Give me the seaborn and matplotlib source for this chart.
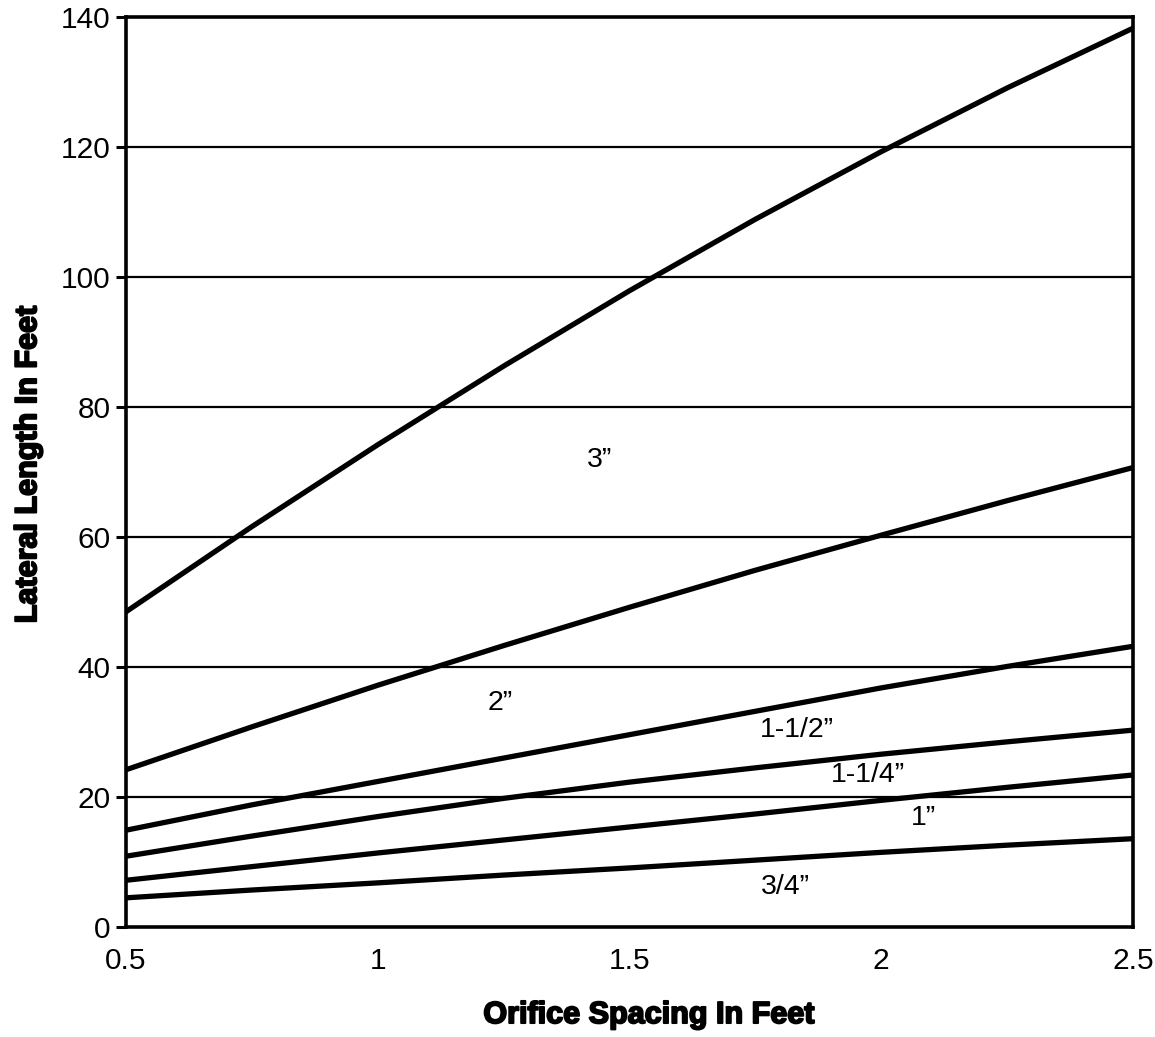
import matplotlib
matplotlib.use("Agg")
import matplotlib.pyplot as plt
import matplotlib.patheffects as pe
import seaborn as sns
import pandas as pd

spacing = [0.5, 0.75, 1.0, 1.25, 1.5, 1.75, 2.0, 2.25, 2.5]
len_3in = [48.5, 61.6, 74.2, 86.3, 97.9, 108.9, 119.3, 129.1, 138.3]
len_2in = [24.2, 30.8, 37.2, 43.3, 49.2, 54.9, 60.3, 65.6, 70.7]
len_1_5in = [14.9, 18.8, 22.4, 26.0, 29.6, 33.2, 36.8, 40.1, 43.2]
len_1_25in = [10.9, 14.0, 17.0, 19.8, 22.3, 24.5, 26.6, 28.5, 30.3]
len_1in = [7.2, 9.3, 11.4, 13.4, 15.4, 17.4, 19.5, 21.5, 23.4]
len_075in = [4.5, 5.7, 6.8, 8.0, 9.1, 10.3, 11.5, 12.6, 13.6]

series_names = ["3\u201d", "2\u201d", "1-1/2\u201d", "1-1/4\u201d", "1\u201d", "3/4\u201d"]
series_values = [len_3in, len_2in, len_1_5in, len_1_25in, len_1in, len_075in]

label_x = [1.44, 1.243, 1.833, 1.974, 2.083, 1.809]
label_y = [71.8, 34.5, 30.3, 23.4, 16.8, 6.2]

x_ticks = [0.5, 1, 1.5, 2, 2.5]
x_ticklabels = ["0.5", "1", "1.5", "2", "2.5"]
y_ticks = [0, 20, 40, 60, 80, 100, 120, 140]

rows = []
for name, vals in zip(series_names, series_values):
    for x, v in zip(spacing, vals):
        rows.append({"spacing": x, "length": v, "pipe": name})
df = pd.DataFrame(rows)

sns.set_theme(style="white")
plt.rcParams["font.family"] = ["Liberation Sans", "DejaVu Sans"]
plt.rcParams["text.color"] = "black"
plt.rcParams["axes.labelcolor"] = "black"

fig = plt.figure(figsize=(11.55, 10.37), dpi=100)
ax = fig.add_axes([0.109, 0.106, 0.872, 0.8775])

for y in y_ticks[1:-1]:
    ax.axhline(y, color="black", lw=1.6, zorder=1)

sns.lineplot(data=df, x="spacing", y="length", hue="pipe",
             palette=["black"] * len(series_names), lw=3.8, legend=False,
             ax=ax, zorder=3)

for name, lx, ly in zip(series_names, label_x, label_y):
    ax.text(lx, ly, name, ha="center", va="center", fontsize=20.5, color="black")

ax.set_xlim(0.5, 2.5)
ax.set_ylim(0, 140)
ax.set_xticks(x_ticks)
ax.set_xticklabels(x_ticklabels)
ax.set_yticks(y_ticks)
ax.tick_params(axis="x", length=0, labelsize=21.5, pad=14, colors="black", labelcolor="black")
ax.tick_params(axis="y", length=7, width=2.2, labelsize=21.5, pad=4, colors="black",
               labelcolor="black", left=True)
for s in ax.spines.values():
    s.set_visible(True)
    s.set_color("black")
    s.set_linewidth(2.6)

heavy = [pe.withStroke(linewidth=1.4, foreground="black")]
xl = ax.set_xlabel("Orifice Spacing In Feet", fontsize=22, fontweight="bold", color="black")
yl = ax.set_ylabel("Lateral Length In Feet", fontsize=22, fontweight="bold", color="black")
xl.set_path_effects(heavy)
yl.set_path_effects(heavy)
ax.xaxis.set_label_coords(0.519, -0.0967)
xl.set_va("center")
ax.yaxis.set_label_coords(-0.097, 0.508)
yl.set_va("center")

fig.savefig("out.png", dpi=100, facecolor="white")
